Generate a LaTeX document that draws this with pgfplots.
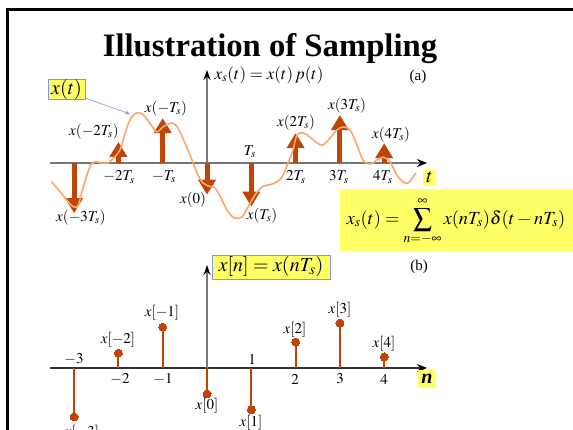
\documentclass[border=0pt]{standalone}
\usepackage{mathptmx}
\usepackage[no-math]{fontspec}
\setmainfont{Liberation Serif}
\usepackage{pgfplots}
\pgfplotsset{compat=1.18}
\usetikzlibrary{arrows.meta}

\definecolor{stem}{RGB}{190,68,8}
\definecolor{wave}{RGB}{250,168,105}
\definecolor{hilite}{RGB}{255,255,102}
\definecolor{boxblue}{RGB}{125,155,225}
\definecolor{axisgray}{RGB}{120,120,120}

\newcommand{\lbl}{\fontsize{15}{15}\selectfont}

% sample values x(nT_s), n = -3..4
\pgfplotstableread{
x  y  v
-3 0 -1.14
-2 0  0.48
-1 0  1.02
 0 0 -0.72
 1 0 -0.99
 2 0  0.68
 3 0  1.09
 4 0  0.45
}\impulses

\pgfplotstableread{
n  xn
-3 -1.11
-2  0.34
-1  0.93
 0 -0.59
 1 -0.95
 2  0.59
 3  1.02
 4  0.25
}\samples

\begin{document}
\begin{tikzpicture}[x=1pt,y=1pt]
\path[use as bounding box] (0,0) rectangle (573,430);
\clip (0,0) rectangle (573,430);
\fill[white] (0,0) rectangle (573,430);
\draw[line width=2.6pt, line join=miter] (7.2,-10) |- (600,420.3);

\node[anchor=base, font=\fontsize{32.7}{34}\selectfont\bfseries] at (270,373) {Illustration of Sampling};

% (a) continuous-time signal and impulse train
\begin{axis}[
  at={(50pt,205pt)}, anchor=south west,
  scale only axis, width=377pt, height=155pt,
  xmin=-3.544, xmax=4.966, ymin=-1.409, ymax=2.114,
  axis lines=none, ticks=none, clip=false]
  \draw[axisgray, line width=1.4pt, -{Stealth[length=10pt,width=8pt,color=black]}]
    (axis cs:-3.544,0) -- (axis cs:4.966,0);
  \draw[axisgray, line width=1.2pt, -{Stealth[length=10pt,width=7pt,color=black]}]
    (axis cs:0,0) -- (axis cs:0,2.114);
  \addplot[quiver={u=0,v=\thisrow{v}}, draw=stem, line width=5pt,
    -{Triangle[width=17pt,length=15pt]}] table[x=x,y=y] {\impulses};
  \addplot[wave, line width=1.6pt, smooth, tension=0.55] coordinates {
    (-3.506,-0.425) (-3.318,-0.652) (-3.167,-0.841) (-3.018,-0.993)
    (-2.905,-0.955) (-2.792,-0.539) (-2.641,-0.084) (-2.528,0.030)
    (-2.415,0.007) (-2.264,-0.007) (-2.151,0.068) (-1.964,0.295)
    (-1.851,0.675) (-1.738,0.977) (-1.587,1.143) (-1.438,1.091)
    (-1.287,0.902) (-1.135,0.711) (-0.986,0.825) (-0.790,0.909)
    (-0.655,0.795) (-0.497,0.455) (-0.339,0.068) (-0.203,-0.273)
    (-0.090,-0.455) (0.023,-0.523) (0.181,-0.568) (0.339,-0.841)
    (0.474,-1.114) (0.632,-1.250) (0.790,-1.227) (0.926,-1.000)
    (1.084,-0.727) (1.242,-0.545) (1.377,-0.500) (1.535,-0.455)
    (1.693,-0.318) (1.829,0.000) (1.941,0.295) (2.032,0.636)
    (2.167,0.682) (2.325,0.591) (2.483,0.455) (2.619,0.409)
    (2.777,0.568) (2.935,0.750) (3.070,0.818) (3.228,0.750)
    (3.386,0.409) (3.521,0.068) (3.679,-0.023) (3.837,0.068)
    (3.973,0.136) (4.131,0.023) (4.289,-0.273) (4.424,-0.432)
    (4.537,-0.455) (4.650,-0.318) (4.718,-0.227)};
\end{axis}

% (b) discrete-time sequence
\begin{axis}[
  at={(50pt,0pt)}, anchor=south west,
  scale only axis, width=377pt, height=165pt,
  xmin=-3.544, xmax=4.966, ymin=-1.409, ymax=2.341,
  axis lines=none, ticks=none, clip=false]
  \draw[black!80, line width=1.2pt, -{Stealth[length=10pt,width=8pt,color=black]}]
    (axis cs:-3.544,0) -- (axis cs:4.966,0);
  \draw[axisgray, line width=1.2pt, -{Stealth[length=10pt,width=7pt,color=black]}]
    (axis cs:0,0) -- (axis cs:0,2.341);
  \addplot[ycomb, draw=stem, line width=2pt, mark=*, mark size=4pt,
    mark options={fill=stem, draw=stem, line width=0pt}] table[x=n,y=xn] {\samples};
\end{axis}

% labels of panel (a)
\begin{scope}[font=\lbl]
\node at (81,212) {$x(-3T_s)$};
\node at (94,298) {$x(-2T_s)$};
\node at (166,321) {$x(-T_s)$};
\node at (193,230) {$x(0)$};
\node at (262,214) {$x(T_s)$};
\node at (296,307) {$x(2T_s)$};
\node at (347,324) {$x(3T_s)$};
\node at (391,295) {$x(4T_s)$};
\node at (119,253) {$-2T_s$};
\node at (164,253) {$-T_s$};
\node at (250,278) {$T_s$};
\node at (296,253) {$2T_s$};
\node at (339,253) {$3T_s$};
\node at (383,253) {$4T_s$};
\node at (418,353) {(a)};
\end{scope}
\node[font=\fontsize{17}{17}\selectfont] at (269,355) {$x_s(t)=x(t)\,p(t)$};
\node[fill=hilite, inner sep=0pt, minimum width=13pt, minimum height=15pt,
  font=\fontsize{20}{20}\selectfont] at (429.5,252.5) {$t$};
\node[fill=hilite, draw=boxblue, line width=0.6pt, inner sep=0pt,
  minimum width=37pt, minimum height=19pt, font=\fontsize{20}{20}\selectfont]
  at (66.5,340.5) {$x(t)$};
\draw[boxblue, line width=0.6pt, -{Stealth[length=5pt,width=4pt]}] (85,332) -- (130,316);
\fill[hilite] (340,179) rectangle (580,241);
\node[inner sep=0pt, font=\fontsize{18.5}{19}\selectfont] at (456,209)
  {$\displaystyle x_s(t)=\sum_{n=-\infty}^{\infty}x(nT_s)\delta(t-nT_s)$};

% labels of panel (b)
\begin{scope}[font=\lbl]
\node at (74,71) {$-3$};
\node at (120,51) {$-2$};
\node at (163,51) {$-1$};
\node at (252,71) {$1$};
\node at (295,51) {$2$};
\node at (340,51) {$3$};
\node at (384,51) {$4$};
\node at (82,-3) {$x[-3]$};
\node at (118,90) {$x[-2]$};
\node at (162,117) {$x[-1]$};
\node at (207,24) {$x[0]$};
\node at (251,7) {$x[1]$};
\node at (295,100) {$x[2]$};
\node at (340,120) {$x[3]$};
\node at (384,86) {$x[4]$};
\node at (419,163) {(b)};
\end{scope}
\node[fill=hilite, draw=boxblue, line width=0.6pt, inner sep=0pt,
  minimum width=118pt, minimum height=24pt, font=\fontsize{20}{20}\selectfont]
  at (271,163) {$x[n]=x(nT_s)$};
\node[fill=hilite, inner sep=0pt, minimum width=18pt, minimum height=18pt,
  font=\fontsize{20}{20}\selectfont] at (427,51) {\textbf{\textit{n}}};
\end{tikzpicture}
\end{document}
